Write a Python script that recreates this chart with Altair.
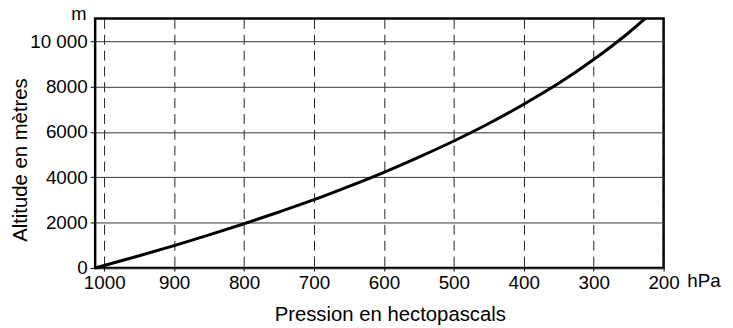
import altair as alt
import pandas as pd

# Curve: pressure (hPa) vs altitude (m)
pressure = [1013, 950, 900, 850, 800, 750, 700, 650, 600, 550, 500, 450, 400, 350, 300, 250, 226]
altitude = [0, 540, 990, 1460, 1950, 2470, 3010, 3600, 4220, 4890, 5600, 6370, 7220, 8140, 9190, 10370, 11000]

x_ticks = [1000, 900, 800, 700, 600, 500, 400, 300, 200]
y_ticks = [0, 2000, 4000, 6000, 8000, 10000]

FONT = "Liberation Sans"

df = pd.DataFrame({"p": pressure, "z": altitude})

x_enc = alt.X(
    "p:Q",
    scale=alt.Scale(domain=[200, 1013], reverse=True, nice=False, zero=False),
    axis=alt.Axis(
        values=x_ticks,
        format="d",
        title="Pression en hectopascals",
        grid=True,
        gridDash=[10, 6],
        gridColor="#222",
        gridWidth=1,
        gridOpacity=1,
        domain=False,
        tickSize=3,
        tickColor="#000",
        labelPadding=3,
        labelFlush=False,
        labelFont=FONT,
        labelFontSize=19,
        labelColor="#000",
        titleFont=FONT,
        titleFontSize=20.5,
        titleFontWeight="normal",
        titleColor="#000",
        titleX=297.5,
        titleY=53,
        titleAlign="center",
        titleBaseline="alphabetic",
    ),
)

y_enc = alt.Y(
    "z:Q",
    scale=alt.Scale(domain=[0, 11000], nice=False),
    axis=alt.Axis(
        values=y_ticks,
        labelExpr="datum.value >= 10000 ? '10 000' : format(datum.value, 'd')",
        title="Altitude en mètres",
        grid=True,
        gridColor="#333",
        gridWidth=1,
        gridOpacity=1,
        domain=False,
        tickSize=5,
        tickColor="#000",
        labelPadding=3,
        labelFlush=False,
        labelFont=FONT,
        labelFontSize=19,
        labelColor="#000",
        titleFont=FONT,
        titleFontSize=20.5,
        titleFontWeight="normal",
        titleColor="#000",
        titleAngle=270,
        titleX=-69.3,
        titleY=142.5,
        titleAlign="center",
        titleBaseline="alphabetic",
    ),
)

line = alt.Chart(df).mark_line(color="#000", strokeWidth=3, interpolate="monotone").encode(
    x=x_enc, y=y_enc
)

unit_m = alt.Chart(pd.DataFrame({"t": ["m"]})).mark_text(
    font=FONT, fontSize=18.5, align="right", baseline="alphabetic", color="#000"
).encode(text="t:N", x=alt.value(-8.7), y=alt.value(1.6))

unit_hpa = alt.Chart(pd.DataFrame({"t": ["hPa"]})).mark_text(
    font=FONT, fontSize=19, align="left", baseline="alphabetic", color="#000"
).encode(text="t:N", x=alt.value(598), y=alt.value(271.3))

chart = alt.layer(line, unit_m, unit_hpa).properties(
    width=574,
    height=252,
    autosize="none",
    padding={"left": 88, "top": 9, "right": 62, "bottom": 58},
).configure_view(stroke="#000", strokeWidth=2.5)

chart.save("out.html", embed_options={"renderer": "svg", "actions": False})
